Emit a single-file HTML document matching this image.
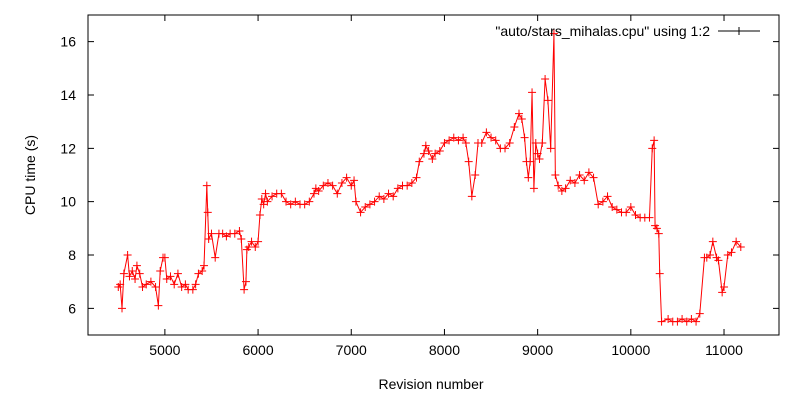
<!DOCTYPE html>
<html><head><meta charset="utf-8"><style>
body{margin:0;background:#fff}
svg{display:block;font-family:"Liberation Sans",sans-serif;font-size:14px}
</style></head><body>
<svg id="chart" width="800" height="400" xmlns="http://www.w3.org/2000/svg">
<rect x="0" y="0" width="800" height="400" fill="#fff"/>
<g id="axes"></g>
<g id="series"></g>
<text transform="translate(35,175) rotate(-90)" text-anchor="middle">CPU time (s)</text>
<text x="431" y="389" text-anchor="middle">Revision number</text>
<g>
<text x="710" y="36" text-anchor="end">"auto/stars_mihalas.cpu" using 1:2</text>
<line x1="718" y1="31" x2="760" y2="31" stroke="#000" stroke-width="1"/>
<path d="M735,31h8M739,27v8" stroke="#000" stroke-width="1"/>
</g>
</svg>
<script>
const revisions=[4500,4520,4540,4560,4600,4620,4650,4680,4700,4730,4760,4800,4850,4900,4930,4950,4980,5000,5020,5060,5100,5140,5180,5220,5250,5300,5330,5360,5400,5420,5450,5460,5470,5500,5540,5580,5620,5660,5700,5750,5800,5820,5850,5870,5880,5900,5930,5970,6000,6020,6040,6060,6080,6100,6150,6200,6250,6300,6350,6400,6450,6500,6550,6600,6620,6650,6700,6750,6800,6850,6900,6950,7000,7030,7050,7100,7150,7200,7250,7300,7350,7400,7450,7500,7550,7600,7650,7700,7730,7780,7800,7830,7870,7900,7950,8000,8050,8100,8150,8200,8230,8260,8294,8330,8360,8400,8450,8500,8550,8600,8650,8700,8750,8800,8830,8860,8880,8900,8920,8940,8960,8980,9000,9020,9050,9080,9110,9140,9175,9190,9220,9260,9300,9350,9400,9450,9500,9550,9600,9650,9700,9750,9800,9850,9900,9950,10000,10050,10100,10150,10200,10230,10250,10260,10280,10300,10310,10330,10400,10450,10500,10550,10600,10650,10700,10740,10790,10815,10850,10880,10920,10940,10980,11000,11040,11080,11130,11180,11210,11230];
const cpuTimes=[6.8,6.9,6.0,7.3,8.0,7.2,7.4,7.1,7.6,7.3,6.8,6.9,7.0,6.8,6.1,7.4,7.9,7.9,7.1,7.2,6.9,7.3,6.8,6.9,6.7,6.7,6.9,7.3,7.4,7.6,10.6,9.6,8.6,8.8,7.9,8.8,8.8,8.7,8.8,8.8,8.9,8.6,6.7,7.0,8.2,8.3,8.5,8.3,8.5,9.5,10.1,9.9,10.3,10.0,10.2,10.3,10.3,10.0,9.9,10.0,9.9,9.9,10.0,10.3,10.5,10.4,10.6,10.7,10.6,10.3,10.7,10.9,10.6,10.8,10.0,9.6,9.8,9.9,10.0,10.2,10.1,10.3,10.2,10.5,10.6,10.6,10.7,10.9,11.5,11.8,12.1,11.9,11.6,11.8,11.9,12.2,12.3,12.4,12.3,12.4,12.2,11.5,10.2,11.0,12.2,12.2,12.6,12.4,12.3,12.0,12.0,12.2,12.8,13.3,13.1,12.4,11.5,10.9,11.5,14.1,10.5,12.2,11.8,11.6,12.2,14.6,13.8,12.0,16.3,11.0,10.6,10.4,10.5,10.8,10.7,11.0,10.8,11.1,10.9,9.9,10.0,10.2,9.8,9.7,9.6,9.6,9.8,9.5,9.4,9.4,9.4,12.0,12.3,9.1,9.0,8.8,7.3,5.5,5.6,5.5,5.5,5.6,5.5,5.6,5.5,5.8,7.9,7.9,8.0,8.5,7.9,7.8,6.6,6.8,8.0,8.1,8.5,8.3];
const xTickLabels=[5000,6000,7000,8000,9000,10000,11000];
const yTickLabels=[6,8,10,12,14,16];
const X0=88,X1=779,Y0=15,Y1=335,XMIN=4175,XMAX=11590,YMIN=5,YMAX=17;
const xs=v=>X0+(v-XMIN)/(XMAX-XMIN)*(X1-X0);
const ys=v=>Y1-(v-YMIN)/(YMAX-YMIN)*(Y1-Y0);
const NS="http://www.w3.org/2000/svg";
const axes=document.getElementById('axes');
function mk(tag,attrs,parent){const e=document.createElementNS(NS,tag);for(const k in attrs)e.setAttribute(k,attrs[k]);parent.appendChild(e);return e;}
const frame=mk('rect',{x:X0,y:Y0,width:X1-X0,height:Y1-Y0,fill:'none',stroke:'#000','stroke-width':1},axes);


xTickLabels.forEach(v=>{const x=xs(v);
 mk('path',{d:`M${x},${Y1}v-6M${x},${Y0}v6`,stroke:'#000'},axes);
 const t=mk('text',{x:x,y:Y1+20,'text-anchor':'middle'},axes);t.textContent=v;
 
 
});
yTickLabels.forEach(v=>{const y=ys(v);
 mk('path',{d:`M${X0},${y}h6M${X1},${y}h-6`,stroke:'#000'},axes);
 const t=mk('text',{x:X0-12,y:y+5,'text-anchor':'end'},axes);t.textContent=v;
 
 
});
const g=document.getElementById('series');
const pts=revisions.map((r,i)=>[xs(r),ys(cpuTimes[i])]);
const line=mk('polyline',{points:pts.map(p=>p.join(',')).join(' '),fill:'none',stroke:'#f00','stroke-width':1},g);


let d='';pts.forEach(p=>{d+=`M${p[0]-4},${p[1]}h8M${p[0]},${p[1]-4}v8`;});
const m=mk('path',{d:d,stroke:'#f00','stroke-width':1},g);


</script>
</body></html>
